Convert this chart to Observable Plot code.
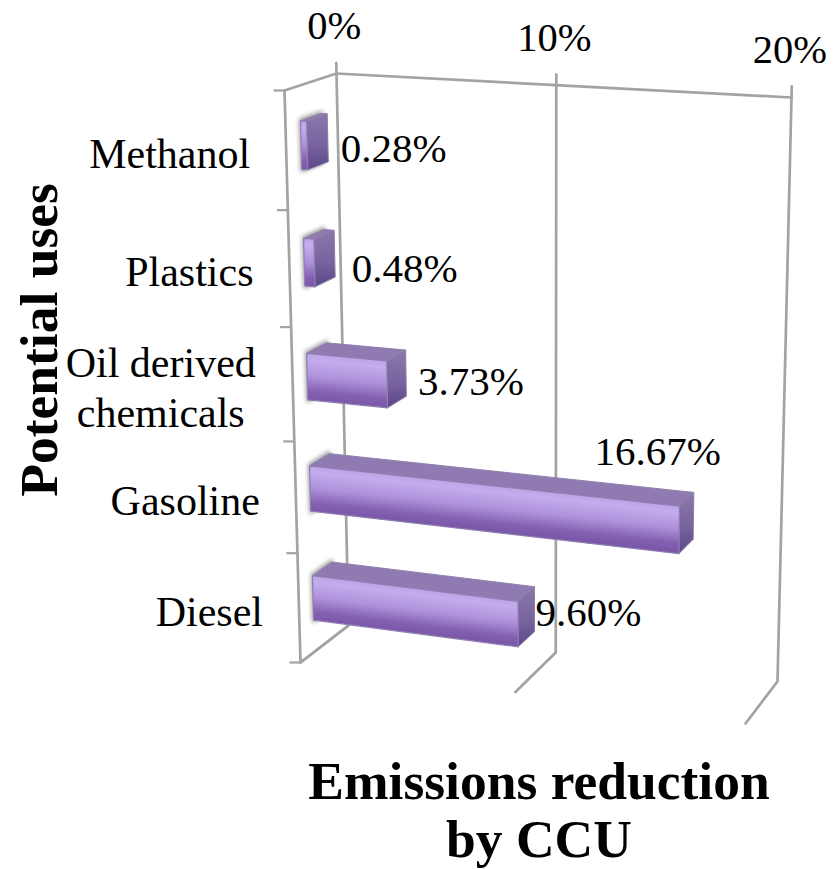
<!DOCTYPE html>
<html>
<head>
<meta charset="utf-8">
<script src="https://cdn.jsdelivr.net/npm/d3@7"></script>
<script src="https://cdn.jsdelivr.net/npm/@observablehq/plot@0.6"></script>
<style>
  html, body { margin: 0; padding: 0; background: #fff; }
</style>
</head>
<body>
<div id="chart"></div>
<script>
// Series
const categories = ["Methanol", "Plastics", "Oil derived\nchemicals", "Gasoline", "Diesel"];
const reductions = [0.28, 0.48, 3.73, 16.67, 9.60];
const gridValues = [0, 10, 20];
const categoryTicks = [0, 1, 2, 3, 4, 5];

// Page-space corners of the 3-D chart box (v = value end, t/b = top/bottom of category axis)
const W = 837, H = 869;
const vMax = 20, rMax = categories.length;
const backPlane = {t0: [336, 73], t1: [791, 97], b0: [348, 625], b1: [777, 681]};
const frontPlane = {t0: [284, 90], t1: [755, 119], b0: [300, 662], b1: [745, 723]};
const valueWarp = 1.07, rankWarp = 0.945;

// Bar extent inside the box
const barFront = 0.29, barBack = 0.69, barHalf = 0.205;

// Foreshortening along an axis of the box
const warp = (t, k) => t / (t + k * (1 - t));
const mix = (a, b, t) => a + (b - a) * t;

// Perspective mapping: value, category rank (0 at top), depth (0 = viewer side, 1 = back wall)
function project(v, r, d) {
  const w = warp(v / vMax, valueWarp);
  const s = warp(r / rMax, rankWarp);
  const onPlane = (p, i) => mix(mix(p.t0[i], p.t1[i], w), mix(p.b0[i], p.b1[i], w), s);
  return [
    mix(onPlane(frontPlane, 0), onPlane(backPlane, 0), d),
    mix(onPlane(frontPlane, 1), onPlane(backPlane, 1), d)
  ];
}
const poly = (...pts) => pts.map(([v, r, d]) => {
  const [x, y] = project(v, r, d);
  return {x, y};
});

// Gradients for the bar faces, aligned with each bar's slope
function gradientDefs() {
  const defs = d3.create("svg:defs");
  reductions.forEach((value, i) => {
    const r = i + 0.5;
    const a = project(0, r - barHalf, barFront);
    const b = project(value, r - barHalf, barFront);
    const c = project(0, r + barHalf, barFront);
    const ex = b[0] - a[0], ey = b[1] - a[1], len = Math.hypot(ex, ey);
    const nx = -ey / len, ny = ex / len;
    const reach = (c[0] - a[0]) * nx + (c[1] - a[1]) * ny;
    const g = defs.append("linearGradient")
      .attr("id", `barFront${i}`)
      .attr("gradientUnits", "userSpaceOnUse")
      .attr("x1", a[0]).attr("y1", a[1])
      .attr("x2", a[0] + nx * reach).attr("y2", a[1] + ny * reach);
    [[0, "#bda4e8"], [0.14, "#c4acee"], [0.5, "#ad90d9"], [0.82, "#8360b0"], [1, "#7a57a8"]]
      .forEach(([o, c]) => g.append("stop").attr("offset", o).attr("stop-color", c));
  });
  const side = defs.append("linearGradient").attr("id", "barSide").attr("x1", 0).attr("y1", 0).attr("x2", 0).attr("y2", 1);
  [[0, "#8a78ac"], [0.55, "#78649f"], [1, "#5b4689"]]
    .forEach(([o, c]) => side.append("stop").attr("offset", o).attr("stop-color", c));
  return defs.node();
}

const ink = "#000";
const gridColor = "#a3a3a3";
const closed = {x: "x", y: "y", curve: "linear-closed"};

// Walls, floor edges and ticks of the box
const wallLines = [
  ...gridValues.map(v => poly([v, -0.09, 1], [v, rMax, 1], [v, rMax, 0])),
  poly([0, 0, 1], [0, 0, 0], [0, rMax, 0], [0, rMax, 1]),
  poly([0, 0, 1], [vMax, 0, 1])
];

const wallMarks = wallLines.map(pts =>
  Plot.line(pts, {x: "x", y: "y", stroke: gridColor, strokeWidth: 2.7}));

const tickMark = Plot.link(categoryTicks, {
  x1: r => project(0, r, 0)[0] - 11,
  x2: r => project(0, r, 0)[0],
  y1: r => project(0, r, 0)[1],
  y2: r => project(0, r, 0)[1],
  stroke: gridColor,
  strokeWidth: 2.2
});

// Each bar: soft halo against the wall, then top, side and front faces
const barMarks = reductions.flatMap((value, i) => {
  const r = i + 0.5, t = r - barHalf, b = r + barHalf;
  return [
    Plot.line(poly([0, t - 0.01, barFront], [0, t - 0.01, barBack], [0, b + 0.01, barBack], [0, b + 0.01, barFront]),
      {...closed, fill: "#9a9a9a", stroke: "#9a9a9a", strokeWidth: 3, imageFilter: "blur(2px)"}),
    Plot.line(poly([0, t, barFront], [0, t, barBack], [value, t, barBack], [value, t, barFront]),
      {...closed, fill: "#8f7bb2", stroke: "#8f80ad", strokeWidth: 1}),
    Plot.line(poly([value, t, barFront], [value, t, barBack], [value, b, barBack], [value, b, barFront]),
      {...closed, fill: "url(#barSide)", stroke: "#8b80a5", strokeWidth: 1}),
    Plot.line(poly([0, t, barFront], [value, t, barFront], [value, b, barFront], [0, b, barFront]),
      {...closed, fill: `url(#barFront${i})`, stroke: "#8f7fb0", strokeWidth: 1.2})
  ];
});

// Nudges of the value labels away from the end of each bar
const valueLabelNudge = [[13, 10.7], [17, 15], [12, 8.7], [-99, -64], [1, 3.4]];
const valueLabelMarks = reductions.map((value, i) => {
  const [px, py] = project(value, i + 0.5, barBack);
  return Plot.text([`${value.toFixed(2)}%`], {
    x: () => px, y: () => py, text: d => d,
    dx: valueLabelNudge[i][0], dy: valueLabelNudge[i][1],
    textAnchor: "start", fontSize: 41, fill: ink
  });
});

// Category labels hang off the left wall; the two-line label is centred
const categoryLabelMarks = categories.map((name, i) => {
  const [px, py] = project(0, i + 0.5, 0);
  const twoLine = name.includes("\n");
  return Plot.text([name], {
    x: () => px, y: () => py, text: d => d,
    dx: twoLine ? -132 : -36, dy: 1.5,
    textAnchor: twoLine ? "middle" : "end", lineHeight: 1.19,
    fontSize: 42, fill: ink
  });
});

const valueTickLabels = Plot.text(gridValues, {
  x: v => project(v, -0.09, 1)[0],
  y: v => project(v, -0.09, 1)[1],
  text: v => `${v}%`,
  dx: -2,
  dy: -36.5,
  fontSize: 40.5,
  fill: ink
});

const yTitle = Plot.text(["Potential uses"], {
  frameAnchor: "left", dx: 39, dy: -95, rotate: -90, textAnchor: "middle",
  fontSize: 53.5, fontWeight: "bold", fill: ink
});
const xTitle = Plot.text(["Emissions reduction\nby CCU"], {
  frameAnchor: "bottom", dx: 120, dy: -60, lineAnchor: "middle", lineHeight: 1.085,
  fontSize: 53.5, fontWeight: "bold", fill: ink
});

const chart = Plot.plot({
  width: W,
  height: H,
  margin: 0,
  x: {domain: [0, W], range: [0, W], axis: null},
  y: {domain: [0, H], range: [0, H], axis: null},
  style: {fontFamily: "'Liberation Serif', 'Times New Roman', serif", background: "#fff"},
  marks: [
    gradientDefs,
    ...wallMarks,
    tickMark,
    ...barMarks,
    ...valueLabelMarks,
    ...categoryLabelMarks,
    valueTickLabels,
    yTitle,
    xTitle
  ]
});
document.getElementById("chart").append(chart);
</script>
</body>
</html>
